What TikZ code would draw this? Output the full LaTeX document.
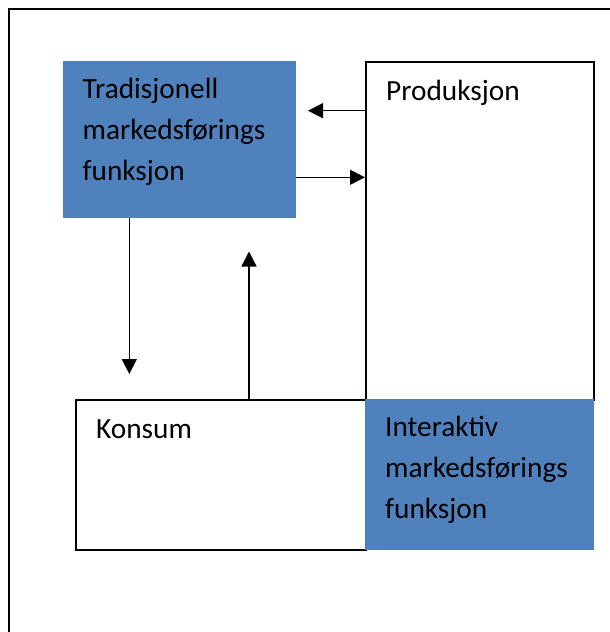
\documentclass[tikz,border=0pt]{standalone}
\usepackage{fontspec}
\setmainfont{Carlito}
\usetikzlibrary{arrows.meta}
\definecolor{officeblue}{HTML}{4F81BD}
\begin{document}
\begin{tikzpicture}[x=1pt,y=-1pt,
  txt/.style={anchor=base west,inner sep=0pt,font=\fontsize{29.3}{41}\selectfont},
  bluebox/.style={fill=officeblue,draw=none,inner sep=0pt},
  whitebox/.style={fill=white,draw=black,line width=2pt,inner sep=0pt},
  arr/.style={line width=1.3pt,-{Triangle[length=15pt,width=15pt]}}]
\useasboundingbox (0,0) rectangle (610,632);
\fill[white] (0,0) rectangle (610,632);
\begin{scope}
\clip (0,0) rectangle (610,632);
\draw[line width=2pt] (9,660) -- (9,9) -- (640,9);
\end{scope}
% boxes
\node[bluebox,minimum width=233pt,minimum height=157pt,anchor=north west] (trad) at (63,61) {};
\node[whitebox,minimum width=228pt,minimum height=338pt,anchor=north west] (prod) at (365,61) {};
\node[whitebox,minimum width=290pt,minimum height=150pt,anchor=north west] (kons) at (75,399) {};
\node[bluebox,minimum width=229pt,minimum height=151pt,anchor=north west] (inter) at (365,399) {};
% texts
\node[txt] (t1) at (82.5,98.3) {Tradisjonell};
\node[txt] (t2) at (82.5,139.3) {markedsførings};
\node[txt] (t3) at (82.5,180.5) {funksjon};
\node[txt] (p1) at (386,100) {Produksjon};
\node[txt] (k1) at (96,438.3) {Konsum};
\node[txt] (i1) at (385,436.7) {Interaktiv};
\node[txt] (i2) at (385,477.5) {markedsførings};
\node[txt] (i3) at (385,518.5) {funksjon};
% connectors
\coordinate (a1e) at (308,110.7);
\coordinate (a3e) at (129.3,374);
\coordinate (a4e) at (249,251.5);
\draw[arr] (prod.west |- a1e) -- (a1e);
\draw[arr] (trad.east |- 0,177.3) -- (prod.west |- 0,177.3);
\draw[arr] (trad.south -| a3e) -- (a3e);
\draw[arr] (kons.north -| a4e) -- (a4e);
\end{tikzpicture}
\end{document}
